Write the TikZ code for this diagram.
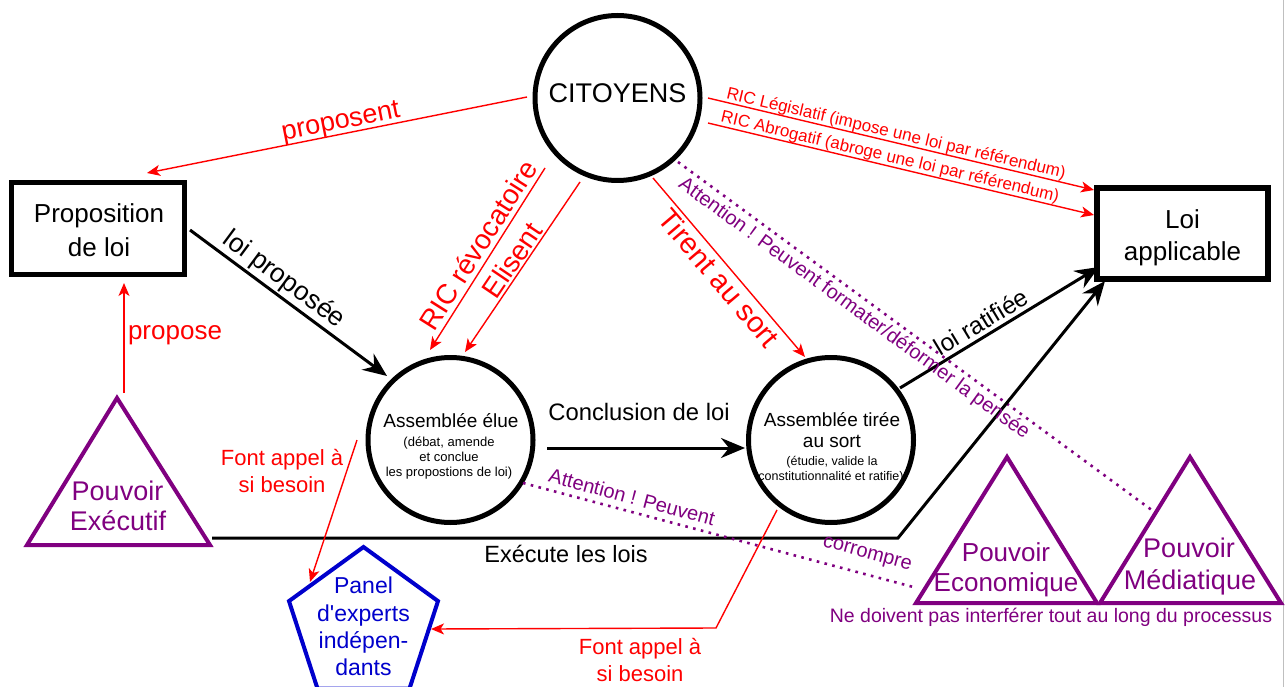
\documentclass[tikz,border=0pt]{standalone}
\usepackage{fontspec}
\setmainfont{Liberation Sans}[Ligatures=TeXOff]
\usetikzlibrary{arrows.meta,calc}
\definecolor{rred}{RGB}{255,0,0}
\definecolor{purp}{RGB}{128,0,128}
\definecolor{bblue}{RGB}{0,0,204}
\begin{document}
\begin{tikzpicture}[x=1pt,y=-1pt,
 fs/.style={font=\fontsize{#1}{#1}\selectfont},
 tb/.style={inner sep=0pt,anchor=base},
 tl/.style={inner sep=0pt},
 circ/.style={circle,draw,line width=5pt,minimum size=165pt,inner sep=0pt},
 boxn/.style={rectangle,draw,line width=5.5pt,inner sep=0pt},
 rarr/.style={draw=rred,line width=1.4pt,-{Stealth[length=13pt,width=11pt,inset=3.5pt]}},
 barr/.style={draw=black,line width=3pt,line join=miter,-{Stealth[length=24pt,width=20pt,inset=8pt]}},
 dotl/.style={draw=purp,line width=2.6pt,dash pattern=on 2.6pt off 5.4pt},
 tri/.style={draw=purp,line width=4pt,line join=miter},
 pent/.style={draw=bblue,line width=4pt,line join=miter}]
\fill[white] (0,0) rectangle (1288,687);
\useasboundingbox (0,0) rectangle (1288,687);
\draw[gray!50,line width=0.8pt] (1283,0) -- (1283,687);

% ---------- main shapes
\node[circ] (cit) at (617.5,98) {};
\node[tb,fs=27] (citT) at (617.5,103) {CITOYENS};

\node[boxn,minimum width=173pt,minimum height=92pt] (prop) at (98,228.5) {};
\node[tb,fs=26] (propT1) at (99,223) {Proposition};
\node[tb,fs=26] (propT2) at (99,256) {de loi};

\node[boxn,line width=6pt,minimum width=171pt,minimum height=91pt] (loi) at (1182.5,233.5) {};
\node[tb,fs=26] (loiT1) at (1182.5,229) {Loi};
\node[tb,fs=26] (loiT2) at (1182.5,261) {applicable};

\node[circ] (ae) at (450.5,440) {};
\node[tb,fs=19] (aeT1) at (451,427) {Assemblée élue};
\node[tb,fs=13] (aeT2) at (449,446) {(débat, amende};
\node[tb,fs=13] (aeT3) at (449,461) {et conclue};
\node[tb,fs=13] (aeT4) at (449,476) {les propostions de loi)};

\node[circ] (at) at (831,440) {};
\node[tb,fs=19] (atT1) at (832,426) {Assemblée tirée};
\node[tb,fs=19] (atT2) at (832,447) {au sort};
\node[tb,fs=12.5] (atT3) at (832,465) {(étudie, valide la};
\node[tb,fs=12.5] (atT4) at (831,480) {constitutionnalité et ratifie)};

% triangles
\draw[tri] (117,398) -- (27,545) -- (210,545) -- cycle;
\node[tb,fs=27,text=purp] (exT1) at (117.5,500) {Pouvoir};
\node[tb,fs=27,text=purp] (exT2) at (118,530) {Exécutif};

\draw[tri] (1007,457) -- (916,603) -- (1097,603) -- cycle;
\node[tb,fs=26,text=purp] (ecT1) at (1006,561.5) {Pouvoir};
\node[tb,fs=26,text=purp] (ecT2) at (1006,591.5) {Economique};

\draw[tri] (1190,457) -- (1100,603) -- (1281,603) -- cycle;
\node[tb,fs=27,text=purp] (meT1) at (1189,557) {Pouvoir};
\node[tb,fs=27,text=purp] (meT2) at (1190,589) {Médiatique};

\node[tb,fs=19.5,text=purp] (nedoiv) at (1051,622) {Ne doivent pas interférer tout au long du processus};

% pentagon
\draw[pent] (363.5,547) -- (438,601.1) -- (409.5,688.6) -- (317.5,688.6) -- (289,601.1) -- cycle;
\node[tb,fs=23,text=bblue] (paT1) at (363.5,593) {Panel};
\node[tb,fs=23,text=bblue] (paT2) at (363.5,621) {d'experts};
\node[tb,fs=23,text=bblue] (paT3) at (363.5,648) {indépen-};
\node[tb,fs=23,text=bblue] (paT4) at (363.5,675) {dants};

% ---------- connector end points
\coordinate (propoS) at (527,97);   \coordinate (propoE) at (147,173);
\coordinate (ricL1) at (708,98);    \coordinate (ricL2) at (1094,190);
\coordinate (ricA1) at (708,123);   \coordinate (ricA2) at (1094,215);
\coordinate (rev1) at (545,168);    \coordinate (rev2) at (430,350);
\coordinate (eli1) at (580,182);    \coordinate (eli2) at (465,352);
\coordinate (tir1) at (653,178);    \coordinate (tir2) at (805,357);
\coordinate (att1) at (678,162);    \coordinate (att2) at (1153,511);
\coordinate (lp1) at (190,230);     \coordinate (lp2) at (387,376);
\coordinate (con1) at (547,448);    \coordinate (con2) at (745,448);
\coordinate (rat1) at (900,388);    \coordinate (rat2) at (1099,267);
\coordinate (exe1) at (212,538);    \coordinate (exeC) at (898,538);  \coordinate (exe2) at (1105,281);
\coordinate (pro1) at (124,393);    \coordinate (pro2) at (124,283);
\coordinate (fa1) at (357,440);     \coordinate (fa2) at (310,582);
\coordinate (fb1) at (777,510);     \coordinate (fbC) at (716,628);   \coordinate (fb2) at (431,629);
\coordinate (cor1) at (523,483);    \coordinate (cor2) at (917,588);

% ---------- connectors
\draw[rarr] (propoS) -- (propoE);
\draw[rarr] (ricL1) -- (ricL2);
\draw[rarr] (ricA1) -- (ricA2);
\draw[rarr] (rev1) -- (rev2);
\draw[rarr] (eli1) -- (eli2);
\draw[rarr] (tir1) -- (tir2);
\draw[dotl] (att1) -- (att2);
\draw[barr] (lp1) -- (lp2);
\draw[barr] (con1) -- (con2);
\draw[barr] (rat1) -- (rat2);
\draw[barr] (exe1) -- (exeC) -- (exe2);
\draw[rarr] (pro1) -- (pro2);
\draw[rarr] (fa1) -- (fa2);
\draw[rarr] (fb1) -- (fbC) -- (fb2);
\draw[dotl] (cor1) -- (cor2);

% ---------- labels
\node[tl,fs=27,text=rred,rotate=11.3] (lProposent) at (341,123) {proposent};
\node[tl,fs=17,text=rred,rotate=-13.3] (lRicL) at (896,134) {RIC Législatif (impose une loi par référendum)};
\node[tl,fs=17,text=rred,rotate=-13.3] (lRicA) at (890,157.5) {RIC Abrogatif (abroge une loi par référendum)};
\node[tl,fs=28,text=rred,rotate=57.7] (lRev) at (478,245) {RIC révocatoire};
\node[tl,fs=28,text=rred,rotate=55.9] (lEli) at (512,260) {Elisent};
\node[tl,fs=29,text=rred,rotate=-49.7] (lTir) at (719,278) {Tirent au sort};
\node[tl,fs=20,text=purp,rotate=-36.1] (lAtt) at (854,309) {Attention ! Peuvent formater/déformer la pensée};
\node[tl,fs=26.5,rotate=-36.5] (lLp) at (284,280) {loi proposée};
\node[tb,fs=23.8] (lCon) at (639,420) {Conclusion de loi};
\node[tl,fs=24.5,rotate=31] (lRat) at (981,322) {loi ratifiée};
\node[tb,fs=23.5] (lExe) at (566,562) {Exécute les lois};
\node[tl,fs=26,text=rred] (lPro) at (175,335) {propose};
\node[tl,text=rred,align=center,font=\fontsize{22}{27}\selectfont] (lFa) at (282,471) {Font appel à\\si besoin};
\node[tl,text=rred,align=center,font=\fontsize{22}{27}\selectfont] (lFb) at (640,660) {Font appel à\\si besoin};
\node[tl,fs=20,text=purp,rotate=-15] (lCor1) at (632,497) {Attention ! Peuvent};
\node[tl,fs=20,text=purp,rotate=-15] (lCor2) at (867,555) {corrompre};
\end{tikzpicture}
\end{document}
